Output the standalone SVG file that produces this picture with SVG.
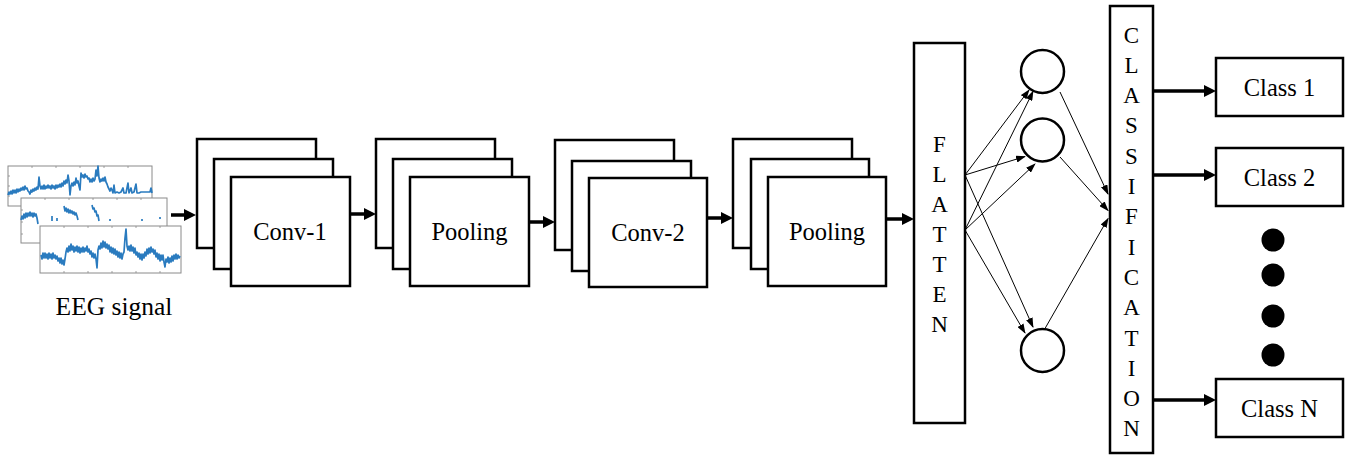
<svg xmlns="http://www.w3.org/2000/svg" width="1353" height="456" viewBox="0 0 1353 456">
<style>
.box{fill:#fff;stroke:#000;stroke-width:2.5}
.lbl{font-family:"Liberation Serif","Times New Roman",serif;font-size:24.5px;fill:#000;text-anchor:middle}
.vl{font-family:"Liberation Serif","Times New Roman",serif;font-size:23px;fill:#000;text-anchor:middle}
.thick{stroke:#000;stroke-width:3.5;fill:none;marker-end:url(#ah)}
.thin{stroke:#000;stroke-width:1;fill:none;marker-end:url(#at)}
.panel{fill:#fff;stroke:#8a8a8a;stroke-width:1}
.tick{stroke:#8a8a8a;stroke-width:0.8}
.sig{fill:none;stroke:#2a7bbf;stroke-width:1.7;stroke-linejoin:round}
.node{fill:#fff;stroke:#000;stroke-width:2.5}
.dot{fill:#000}
</style>
<defs>
<marker id="ah" markerUnits="userSpaceOnUse" viewBox="0 0 12 12" markerWidth="12" markerHeight="12" refX="3" refY="6" orient="auto">
<path d="M0,0 L12,6 L0,12 z" fill="#000"/>
</marker>
<marker id="at" markerUnits="userSpaceOnUse" viewBox="0 0 10 7" markerWidth="10" markerHeight="7" refX="9" refY="3.5" orient="auto">
<path d="M0,0 L10,3.5 L0,7 z" fill="#000"/>
</marker>
</defs>

<g id="eeg">
<g id="panel1">
<rect class="panel" x="8" y="166" width="144" height="40"/>
<path class="tick" d="M32,166v2M56,166v2M80,166v2M104,166v2M128,166v2M8,176h2M8,186h2M8,196h2"/>
<path class="sig" d="M8,195 L9,192 L10,194 L11,191 L12,194 L13,190 L14,193 L15,190 L16,193 L17,189 L18,192 L19,189 L20,191 L21,188 L22,190 L23,187 L24,190 L25,186 L26,189 L27,188 L28,191 L29,192 L30,194 L31,190 L32,192 L33,189 L34,191 L35,188 L36,190 L37,187 L38,189 L39,177 L40,186 L41,189 L42,186 L43,189 L44,185 L45,189 L46,186 L47,188 L48,185 L49,188 L50,186 L51,189 L52,185 L53,188 L54,186 L55,189 L56,185 L57,188 L58,185 L59,187 L60,184 L61,187 L62,183 L63,186 L64,181 L65,184 L66,180 L67,183 L68,175 L69,181 L70,195 L71,186 L72,183 L73,186 L74,182 L75,185 L76,178 L77,183 L78,181 L79,186 L80,190 L81,173 L82,177 L83,175 L84,178 L85,174 L86,177 L87,176 L88,179 L89,178 L90,182 L91,179 L92,182 L93,178 L94,181 L95,179 L96,170 L97,176 L98,166 L99,178 L100,182 L101,179 L102,181 L103,178 L104,181 L105,177 L106,182 L107,184 L108,187 L109,189 L110,191 L111,188 L112,190 L113,193 L114,185 L115,193 L117,192 L119,193 L121,192 L123,188 L124,193 L126,193 L128,183 L129,193 L131,188 L132,193 L134,192 L136,184 L137,193 L139,193 L141,192 L150,192 L151,188 L152,193"/>
</g>
<g id="panel2">
<rect class="panel" x="21" y="198" width="146" height="45"/>
<path class="tick" d="M45,198v2M69,198v2M93,198v2M117,198v2M141,198v2M21,210h2M21,222h2M21,234h2"/>
<path class="sig" d="M21,220 L22,216 L23,219 L24,214 L25,218 L26,213 L27,217 L28,213 L29,216 L30,212 L31,216 L32,213 L33,217 L34,213 L35,216 L36,214 L37,218 L38,224 M52,221 L52,216 M64,206 L65,211 L66,208 L67,212 L68,209 L69,213 L70,210 L71,213 L72,211 L73,214 L74,212 L75,215 L76,213 L77,216 L78,220 M92,205 L93,209 L94,208 L95,212 L96,211 L97,216 L98,215 L99,221 M57,218 L57,221 M110,219 L110,221 M142,219 L142,221 M160,217 L160,219"/>
</g>
<g id="panel3">
<rect class="panel" x="40" y="226" width="141" height="47"/>
<path class="tick" d="M64,226v2M88,226v2M112,226v2M136,226v2M160,226v2M64,273v-2M88,273v-2M112,273v-2M136,273v-2M160,273v-2"/>
<path class="sig" d="M41,255 L42,259 L43,253 L44,258 L45,253 L46,258 L47,254 L48,259 L49,253 L50,258 L51,254 L52,259 L53,253 L54,258 L55,255 L56,259 L57,256 L58,261 L59,258 L60,263 L61,258 L62,264 L63,260 L64,265 L65,259 L66,252 L67,248 L68,252 L69,246 L70,251 L71,244 L72,250 L73,246 L74,252 L75,247 L76,251 L77,246 L78,252 L79,247 L80,253 L81,248 L82,252 L83,247 L84,252 L85,248 L86,251 L87,246 L88,252 L89,249 L90,254 L91,251 L92,257 L93,253 L94,258 L95,254 L96,259 L97,268 L98,250 L99,246 L100,249 L101,243 L102,248 L103,241 L104,247 L105,242 L106,248 L107,244 L108,249 L109,245 L110,252 L111,247 L112,253 L113,248 L114,254 L115,249 L116,255 L117,251 L118,257 L119,252 L120,258 L121,253 L122,259 L123,254 L124,252 L125,238 L126,229 L127,246 L128,250 L129,246 L130,251 L131,245 L132,251 L133,247 L134,253 L135,248 L136,255 L137,252 L138,257 L139,253 L140,259 L141,254 L142,260 L143,254 L144,258 L145,252 L146,256 L147,249 L148,254 L149,248 L150,253 L151,247 L152,252 L153,249 L154,254 L155,250 L156,257 L157,253 L158,259 L159,254 L160,261 L161,255 L162,260 L163,255 L164,262 L165,267 L166,259 L167,262 L168,257 L169,263 L170,258 L171,262 L172,256 L173,261 L174,255 L175,259 L176,254 L177,259 L178,255 L179,258 L180,256"/>
</g>
<text class="lbl" x="114" y="315" style="font-size:25.5px">EEG signal</text>
</g>

<g id="conv1">
<rect class="box" x="197" y="139" width="119" height="109"/>
<rect class="box" x="214" y="159" width="119" height="110"/>
<rect class="box" x="231" y="177" width="119" height="109"/>
<text class="lbl" x="290" y="240">Conv-1</text>
</g>
<g id="pool1">
<rect class="box" x="376" y="139" width="119" height="109"/>
<rect class="box" x="393" y="159" width="119" height="110"/>
<rect class="box" x="410" y="177" width="119" height="109"/>
<text class="lbl" x="469.5" y="240">Pooling</text>
</g>
<g id="conv2">
<rect class="box" x="555" y="140" width="119" height="110"/>
<rect class="box" x="572" y="161" width="119" height="110"/>
<rect class="box" x="589" y="178" width="118" height="109"/>
<text class="lbl" x="648" y="241">Conv-2</text>
</g>
<g id="pool2">
<rect class="box" x="733" y="139" width="119" height="109"/>
<rect class="box" x="751" y="159" width="118" height="110"/>
<rect class="box" x="768" y="177" width="118" height="109"/>
<text class="lbl" x="827" y="240">Pooling</text>
</g>

<g id="flatten">
<rect class="box" x="914" y="43" width="51" height="380"/>
<text class="vl" x="939.5" y="152">F</text>
<text class="vl" x="939.5" y="182">L</text>
<text class="vl" x="939.5" y="212">A</text>
<text class="vl" x="939.5" y="242">T</text>
<text class="vl" x="939.5" y="272">T</text>
<text class="vl" x="939.5" y="302">E</text>
<text class="vl" x="939.5" y="332">N</text>
</g>

<g id="n1"><circle class="node" cx="1042.5" cy="71.5" r="21.5"/></g>
<g id="n2"><circle class="node" cx="1042.5" cy="140" r="21.5"/></g>
<g id="n3"><circle class="node" cx="1042.5" cy="350.5" r="21.5"/></g>

<g id="classification">
<rect class="box" x="1110" y="6" width="43" height="447"/>
<text class="vl" x="1131.5" y="42.5">C</text>
<text class="vl" x="1131.5" y="72.8">L</text>
<text class="vl" x="1131.5" y="103.1">A</text>
<text class="vl" x="1131.5" y="133.4">S</text>
<text class="vl" x="1131.5" y="163.7">S</text>
<text class="vl" x="1131.5" y="194">I</text>
<text class="vl" x="1131.5" y="224.3">F</text>
<text class="vl" x="1131.5" y="254.6">I</text>
<text class="vl" x="1131.5" y="284.9">C</text>
<text class="vl" x="1131.5" y="315.2">A</text>
<text class="vl" x="1131.5" y="345.5">T</text>
<text class="vl" x="1131.5" y="375.8">I</text>
<text class="vl" x="1131.5" y="406.1">O</text>
<text class="vl" x="1131.5" y="436.4">N</text>
</g>

<g id="class1">
<rect class="box" x="1216" y="58" width="127" height="58"/>
<text class="lbl" x="1279.5" y="96">Class 1</text>
</g>
<g id="class2">
<rect class="box" x="1216" y="148" width="127" height="58"/>
<text class="lbl" x="1279.5" y="186">Class 2</text>
</g>
<g id="dots">
<circle class="dot" cx="1273" cy="240" r="11.5"/>
<circle class="dot" cx="1273" cy="275" r="11.5"/>
<circle class="dot" cx="1273" cy="316" r="11.5"/>
<circle class="dot" cx="1273" cy="355" r="11.5"/>
</g>
<g id="classN">
<rect class="box" x="1216" y="379" width="127" height="58"/>
<text class="lbl" x="1279.5" y="417">Class N</text>
</g>

<g id="connectors">
<line class="thick" x1="171" y1="215" x2="187" y2="215"/>
<line class="thick" x1="350" y1="214" x2="367" y2="214"/>
<line class="thick" x1="529" y1="222" x2="546" y2="222"/>
<line class="thick" x1="707" y1="218" x2="724" y2="218"/>
<line class="thick" x1="886" y1="219" x2="905" y2="219"/>
<line class="thick" x1="1153" y1="91" x2="1207" y2="91"/>
<line class="thick" x1="1153" y1="175" x2="1207" y2="175"/>
<line class="thick" x1="1153" y1="400" x2="1207" y2="400"/>
<line class="thin" x1="965" y1="175" x2="1029" y2="90"/>
<line class="thin" x1="965" y1="230" x2="1033" y2="91.5"/>
<line class="thin" x1="965" y1="175" x2="1025" y2="156.5"/>
<line class="thin" x1="965" y1="230" x2="1035" y2="164"/>
<line class="thin" x1="965" y1="175" x2="1033" y2="327"/>
<line class="thin" x1="965" y1="230" x2="1025" y2="333"/>
<line class="thin" x1="1060" y1="92" x2="1108" y2="194"/>
<line class="thin" x1="1060" y1="157" x2="1108" y2="210.5"/>
<line class="thin" x1="1045" y1="328.5" x2="1108" y2="218.5"/>
</g>
</svg>
